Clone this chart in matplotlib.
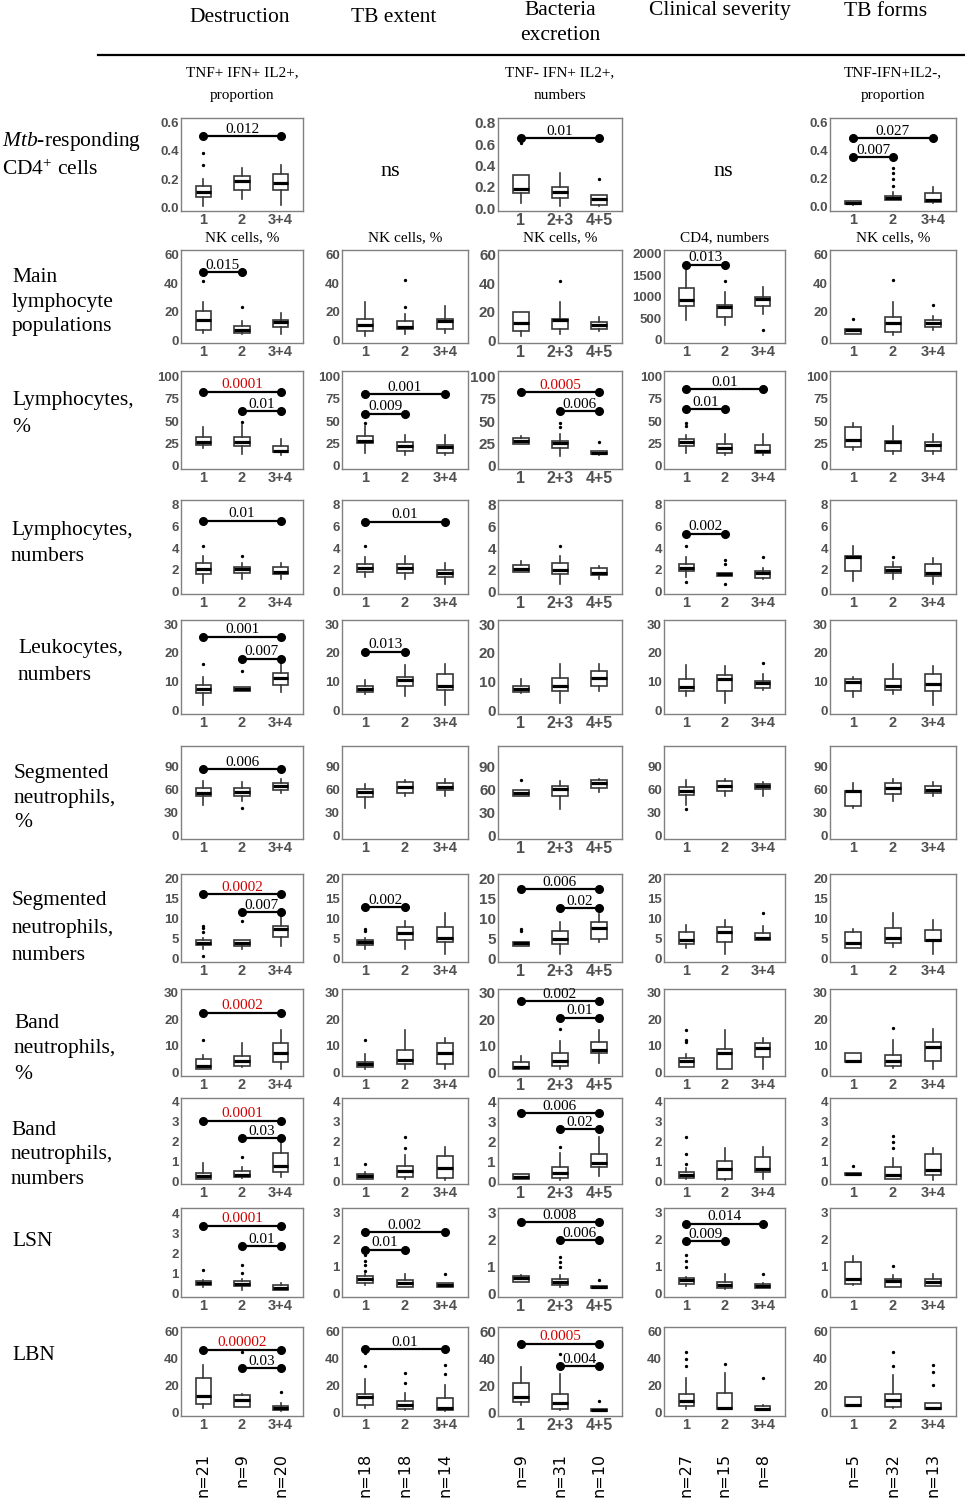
import matplotlib.pyplot as plt
from matplotlib import transforms
from matplotlib.lines import Line2D

plt.rcParams["mathtext.fontset"] = "custom"
plt.rcParams["mathtext.rm"] = "Liberation Serif"
plt.rcParams["mathtext.it"] = "Liberation Serif:italic"

W, H = 965, 1505
SERIF = "Liberation Serif"
SANS = "Liberation Sans"
TICK_GRAY = "#505050"
RED = "#d40000"

# ---------------------------------------------------------------- data
column_titles = ["Destruction", "TB extent", "Bacteria\nexcretion",
                 "Clinical severity", "TB forms"]
row_titles = [
    "$\\mathit{Mtb}$-responding\nCD4$^{+}$ cells",
    "Main\nlymphocyte\npopulations",
    "Lymphocytes,\n%",
    "Lymphocytes,\nnumbers",
    "Leukocytes,\nnumbers",
    "Segmented\nneutrophils,\n%",
    "Segmented\nneutrophils,\nnumbers",
    "Band\nneutrophils,\n%",
    "Band\nneutrophils,\nnumbers",
    "LSN",
    "LBN",
]
groups = ["1", "2", "3+4"]
groups_bacteria = ["1", "2+3", "4+5"]
n_counts = [[21, 9, 20], [18, 18, 14], [9, 31, 10], [27, 15, 8], [5, 32, 13]]

panel_titles = {
    (0, 0): "TNF+ IFN+ IL2+,\nproportion",
    (0, 2): "TNF- IFN+ IL2+,\nnumbers",
    (0, 4): "TNF-IFN+IL2-,\nproportion",
    (1, 0): "NK cells, %",
    (1, 1): "NK cells, %",
    (1, 2): "NK cells, %",
    (1, 3): "CD4, numbers",
    (1, 4): "NK cells, %",
}

# box summaries: (whisker low, q1, median, q3, whisker high, outliers); None = "ns"
mtb_cd4 = [
    [(0.01, 0.075, 0.11, 0.15, 0.20, [0.30, 0.38]), (0.06, 0.12, 0.185, 0.225, 0.28, []),
     (0.02, 0.125, 0.175, 0.235, 0.30, [])],
    None,
    [(0.05, 0.14, 0.185, 0.31, 0.31, [0.61]), (0.02, 0.10, 0.15, 0.20, 0.33, []),
     (0.02, 0.035, 0.09, 0.12, 0.125, [0.27])],
    None,
    [(0.015, 0.02, 0.03, 0.045, 0.045, []), (0.05, 0.052, 0.065, 0.077, 0.105, [0.15, 0.2, 0.245, 0.28]),
     (0.027, 0.037, 0.05, 0.10, 0.14, [])],
]
main_lymph = [
    [(5, 7.5, 14.5, 20.5, 27, [42]), (4, 5, 7, 10, 13.5, [23.5]), (4, 9, 13, 14, 19, [])],
    [(3, 6.5, 10.5, 15, 27, []), (4, 8, 9.5, 13.5, 18.5, [23.5, 42.5]), (5, 8, 13.5, 15, 24, [])],
    [(3, 6.5, 12, 19.5, 19.5, []), (4, 8, 14.5, 15, 27, [42]), (6.5, 8, 11, 12.5, 16, [])],
    [(450, 790, 925, 1190, 1750, []), (330, 520, 755, 810, 1115, [1370]),
     (600, 775, 945, 1000, 1230, [230])],
    [(4, 4.5, 7, 8, 8, [15]), (3.5, 6, 12, 16, 27, [42.5]), (7, 9, 12, 14.5, 17, [24.5])],
]
lymph_pct = [
    [(20, 23.5, 27, 32, 43, []), (13, 22.5, 26, 32, 45, [49]), (12.5, 15, 17, 22.5, 30, [])],
    [(14, 25, 27.5, 33, 44, [48]), (12.5, 16, 22.5, 26.5, 34.5, []), (12, 14.5, 21, 23, 34.5, [])],
    [(24, 24.5, 28, 31.5, 33, []), (11, 20, 25.5, 28, 35, [43.5, 48]), (12, 13, 14.5, 16, 16, [26])],
    [(14, 21.5, 26, 30, 34.5, [44, 47.5]), (12.5, 14, 20, 24.5, 35, []), (12.5, 14, 16, 23.5, 35, [])],
    [(18, 20.5, 29, 43.5, 48, []), (13, 16.5, 26, 28, 44, []), (13, 16.5, 23.5, 27, 35, [])],
]
lymph_num = [
    [(0.8, 1.6, 2.1, 2.6, 3.25, [4.2]), (1.2, 1.75, 2.1, 2.3, 2.6, [3.25]), (1.2, 1.6, 1.85, 2.3, 2.65, [])],
    [(1.4, 1.85, 2.15, 2.55, 3.2, [4.2]), (1.15, 1.7, 2.15, 2.55, 3.25, []), (0.7, 1.4, 1.7, 2.0, 2.6, [])],
    [(1.85, 1.85, 2.05, 2.45, 2.8, []), (0.75, 1.6, 2.0, 2.6, 3.25, [4.2]), (1.15, 1.55, 1.75, 2.15, 2.35, [])],
    [(1.4, 1.9, 2.15, 2.55, 3.2, [0.9, 4.2]), (1.45, 1.45, 1.6, 1.7, 1.7, [0.7, 2.55, 2.9]),
     (1.15, 1.25, 1.7, 1.9, 2.2, [3.15])],
    [(0.95, 1.95, 3.2, 3.25, 4.15, []), (1.2, 1.7, 2.0, 2.25, 2.75, [3.2]), (0.7, 1.45, 1.75, 2.5, 3.05, [])],
]
leuko_num = [
    [(2, 6, 7.4, 8.9, 11.4, [16]), (6.6, 6.8, 7.4, 8, 8, [13.5]), (6.3, 8.9, 11.2, 12.9, 16.4, [])],
    [(5.7, 6.4, 7.4, 8.3, 10.7, []), (4.9, 8.3, 10.7, 11.5, 15.6, []), (2, 6.9, 8.6, 12.7, 16.2, [])],
    [(5.9, 6.5, 7.4, 8.5, 10.8, []), (2.4, 6.8, 8.5, 11.2, 16, []), (6.8, 8.5, 11.2, 13.6, 16.2, [])],
    [(4.8, 6.8, 8, 11, 15.9, []), (2.4, 6.6, 11, 12.3, 15.3, []), (7.2, 7.8, 9.4, 10.2, 12.6, [16.6])],
    [(4.6, 6.8, 10, 10.9, 11.4, []), (5.6, 7.1, 8.3, 10.9, 16.2, []), (1.9, 6.8, 9.1, 12.6, 15.3, [])],
]
seg_pct = [
    [(40.5, 51, 56, 62, 71, []), (45.6, 52, 57, 62, 70, [35.6]), (55, 59, 64.6, 67.8, 73, [])],
    [(35.5, 50, 56.7, 61, 67.3, []), (52, 56, 62.8, 69.5, 72, []), (52, 59, 62.8, 68.7, 74, [])],
    [(51.6, 51.6, 56, 59.5, 59.5, [72.6]), (35, 51.6, 60.4, 65, 70.5, []), (57, 61.5, 68, 71.5, 73.8, [])],
    [(40, 52.3, 57.5, 62.8, 71.6, [34.7]), (51, 58.4, 65, 70.7, 73.8, []), (51.8, 60, 64.2, 67.2, 69.8, [])],
    [(35.6, 38, 57.7, 57.7, 68.2, []), (45, 54.4, 62, 68.2, 73.7, []), (51.5, 55.7, 59.8, 64, 69.5, [])],
]
seg_num = [
    [(2.5, 3.5, 3.9, 4.6, 5.2, [0.8, 6.8, 7.7, 8.1]), (2.5, 3.2, 3.9, 4.7, 4.7, [9.5]),
     (3.2, 5.4, 7.5, 8.1, 10.8, [])],
    [(2.5, 3.4, 4.2, 4.8, 5.2, [7.0, 7.4]), (2.5, 4.6, 6.5, 7.9, 9.5, []), (1.2, 4.1, 5.3, 7.9, 11.4, [])],
    [(3.3, 3.3, 3.9, 4.1, 4.1, [7.0, 7.5]), (1.1, 3.6, 4.9, 6.9, 9.2, []), (4.1, 4.9, 7.8, 9.2, 11.2, [])],
    [(2.6, 3.7, 4.7, 6.8, 8.4, []), (1.2, 4.3, 6.8, 8.0, 9.6, []), (4.7, 4.8, 5.2, 6.4, 8.1, [11.5])],
    [(2.6, 2.6, 4.0, 6.7, 7.4, []), (2.85, 4.0, 5.1, 7.6, 11.5, []), (1.2, 4.5, 4.8, 7.3, 9.6, [])],
]
band_pct = [
    [(1.3, 1.5, 2.3, 5, 6.7, [12.2]), (2.1, 2.3, 4.2, 6.1, 11, []), (1.5, 4, 7.2, 11, 16, [])],
    [(1.5, 2.1, 3.3, 4, 6.8, [12.1]), (1.2, 3.3, 4.6, 8.6, 15.8, []), (1.2, 3.1, 7.2, 11.1, 13, [])],
    [(1.3, 1.3, 1.9, 4, 6.2, []), (1.4, 2.3, 4.5, 7.3, 12, [16.2]), (3.6, 7.3, 8.4, 11.4, 16, [])],
    [(2.1, 2.1, 4.4, 5.3, 6.9, [11.3, 12.2, 16.1]), (1.5, 1.5, 7.2, 8.8, 16, []), (1.3, 5.7, 9.1, 11.1, 12.9, [])],
    [(4.1, 4.1, 4.4, 7.3, 7.3, []), (1.6, 2.3, 4.4, 6.5, 12.1, [16.5]), (1.5, 4.4, 9.4, 11.3, 16.3, [])],
]
band_num = [
    [(0.12, 0.12, 0.28, 0.41, 0.91, []), (0.17, 0.21, 0.33, 0.5, 0.75, [1.24]), (0.2, 0.46, 0.8, 1.41, 1.98, [])],
    [(0.12, 0.13, 0.25, 0.37, 0.47, [0.88]), (0.12, 0.22, 0.5, 0.78, 1.33, [1.7, 2.22]),
     (0.05, 0.17, 0.67, 1.3, 1.75, [])],
    [(0.12, 0.14, 0.23, 0.35, 0.38, []), (0.09, 0.17, 0.43, 0.73, 1.43, [1.74]),
     (0.26, 0.75, 0.92, 1.36, 2.26, [])],
    [(0.12, 0.17, 0.3, 0.45, 0.7, [0.88, 1.37, 2.22]), (0.05, 0.12, 0.62, 1.05, 1.7, []),
     (0.12, 0.47, 0.62, 1.22, 1.75, [])],
    [(0.33, 0.33, 0.38, 0.43, 0.43, [0.8]), (0.1, 0.13, 0.33, 0.72, 1.17, [1.67, 2.0, 2.27]),
     (0.05, 0.33, 0.6, 1.38, 1.68, [])],
]
lsn = [
    [(0.35, 0.42, 0.52, 0.63, 0.68, [1.17]), (0.22, 0.38, 0.5, 0.63, 0.72, [1.02, 1.43]),
     (0.22, 0.22, 0.3, 0.42, 0.55, [])],
    [(0.32, 0.41, 0.53, 0.65, 0.71, [0.83, 1.07, 1.19, 1.43]), (0.24, 0.26, 0.38, 0.5, 0.71, []),
     (0.23, 0.24, 0.32, 0.41, 0.41, [0.72])],
    [(0.43, 0.43, 0.56, 0.65, 0.69, []), (0.26, 0.33, 0.43, 0.54, 0.69, [0.99, 1.15, 1.34]),
     (0.2, 0.2, 0.23, 0.27, 0.27, [0.5])],
    [(0.29, 0.37, 0.5, 0.57, 0.6, [1.0, 1.2, 1.44]), (0.16, 0.2, 0.31, 0.44, 0.73, []),
     (0.2, 0.22, 0.29, 0.37, 0.41, [0.73])],
    [(0.32, 0.37, 0.53, 1.15, 1.39, []), (0.25, 0.26, 0.47, 0.53, 0.68, [1.02]),
     (0.28, 0.28, 0.43, 0.53, 0.72, [])],
]
lbn = [
    [(3.2, 6.2, 12.4, 25.6, 35.1, []), (4, 4, 9.4, 13.2, 14, [45]), (1.5, 2, 3.2, 5, 7.5, [15.7])],
    [(3.2, 5.6, 11.8, 14.2, 25.2, [34.5, 44.3]), (2, 2.4, 5.6, 8.6, 14.7, [22.3, 29.6]),
     (1.2, 2, 3.2, 11, 20.3, [28.4, 35.5])],
    [(5.8, 7.6, 11.4, 22, 33.7, []), (2, 3, 6.8, 13.9, 28.6, [43.8]), (1.3, 1.3, 2, 2.5, 2.5, [8.4])],
    [(3, 4.8, 8.5, 13.5, 25.5, [34.8, 40, 45]), (2.5, 2.5, 3.5, 14.8, 29.3, [36]),
     (1.8, 1.8, 3, 4.8, 5.5, [25.5])],
    [(4.6, 4.6, 5.4, 11.5, 12, []), (3.7, 4.2, 9.1, 13.9, 28.2, [34.8, 45]),
     (2.4, 2.4, 3.4, 7.3, 7.3, [20.8, 29.9, 35.5])],
]
row_boxes = [mtb_cd4, main_lymph, lymph_pct, lymph_num, leuko_num, seg_pct,
             seg_num, band_pct, band_num, lsn, lbn]

# pairwise p-values: (group a, group b, bracket level, p)
significance = {
    (0, 0): [(1, 3, 0.50, "0.012")],
    (0, 2): [(1, 3, 0.655, "0.01")],
    (0, 4): [(1, 3, 0.49, "0.027"), (1, 2, 0.355, "0.007")],
    (1, 0): [(1, 2, 48, "0.015")],
    (1, 3): [(1, 2, 1740, "0.013")],
    (2, 0): [(1, 3, 83, "0.0001"), (2, 3, 61, "0.01")],
    (2, 1): [(1, 3, 80, "0.001"), (1, 2, 58, "0.009")],
    (2, 2): [(1, 3, 82, "0.0005"), (2, 3, 61, "0.006")],
    (2, 3): [(1, 3, 85.5, "0.01"), (1, 2, 63.5, "0.01")],
    (3, 0): [(1, 3, 6.5, "0.01")],
    (3, 1): [(1, 3, 6.4, "0.01")],
    (3, 3): [(1, 2, 5.3, "0.002")],
    (4, 0): [(1, 3, 25.6, "0.001"), (2, 3, 17.9, "0.007")],
    (4, 1): [(1, 2, 20.4, "0.013")],
    (5, 0): [(1, 3, 86, "0.006")],
    (6, 0): [(1, 3, 16.2, "0.0002"), (2, 3, 11.7, "0.007")],
    (6, 1): [(1, 2, 12.9, "0.002")],
    (6, 2): [(1, 3, 17.4, "0.006"), (2, 3, 12.6, "0.02")],
    (7, 0): [(1, 3, 22.4, "0.0002")],
    (7, 2): [(1, 3, 26.8, "0.002"), (2, 3, 20.5, "0.01")],
    (8, 0): [(1, 3, 3.05, "0.0001"), (2, 3, 2.17, "0.03")],
    (8, 2): [(1, 3, 3.44, "0.006"), (2, 3, 2.64, "0.02")],
    (9, 0): [(1, 3, 3.38, "0.0001"), (2, 3, 2.35, "0.01")],
    (9, 1): [(1, 3, 2.25, "0.002"), (1, 2, 1.62, "0.01")],
    (9, 2): [(1, 3, 2.62, "0.008"), (2, 3, 1.97, "0.006")],
    (9, 3): [(1, 3, 2.57, "0.014"), (1, 2, 1.94, "0.009")],
    (10, 0): [(1, 3, 46.8, "0.00002"), (2, 3, 33.1, "0.03")],
    (10, 1): [(1, 3, 47.3, "0.01")],
    (10, 2): [(1, 3, 51.4, "0.0005"), (2, 3, 34.7, "0.004")],
}

row_yticks = [
    [0, 0.2, 0.4, 0.6], [0, 20, 40, 60], [0, 25, 50, 75, 100], [0, 2, 4, 6, 8],
    [0, 10, 20, 30], [0, 30, 60, 90], [0, 5, 10, 15, 20], [0, 10, 20, 30],
    [0, 1, 2, 3, 4], [0, 1, 2, 3], [0, 20, 40, 60],
]
row_ylims = [
    (-0.025, 0.63), (-2, 63.5), (-3.7, 106), (-0.2, 8.4), (-1.3, 31.4), (-4, 116),
    (-0.8, 21.2), (-1.3, 31.3), (-0.13, 4.2), (-0.12, 3.15), (-2.5, 63.7),
]
axis_overrides = {
    (0, 2): ([0, 0.2, 0.4, 0.6, 0.8], (-0.025, 0.845)),
    (0, 4): ([0, 0.2, 0.4, 0.6], (-0.03, 0.635)),
    (1, 3): ([0, 500, 1000, 1500, 2000], (-77, 2085)),
    (9, 0): ([0, 1, 2, 3, 4], (-0.15, 4.25)),
}

# ---------------------------------------------------------------- layout (pixels)
col_left = [181, 342, 498, 664, 830]
col_right = [303, 468, 622, 785, 956]
row_top = [118, 250, 371, 500, 620, 746, 874, 989, 1098, 1208, 1327]
row_bottom = [211, 343, 469, 594, 714, 839, 962, 1076, 1184, 1297, 1416]
row_label_x = [2, 12, 12, 11, 18, 14, 12, 14, 11, 12, 12]
row_label_y = [155, 302, 414, 543, 662, 798, 928, 1049, 1155, 1242, 1355]
row_label_spacing = [1.4, 1.4, 1.6, 1.5, 1.6, 1.4, 1.6, 1.45, 1.4, 1.2, 1.2]
header_y = [18, 18, 23, 11, 11]
header_x = [240, 394, 560, 720, 886]
ns_x = [390, 723]


def fy(y_px):
    return 1 - y_px / H


fig = plt.figure(figsize=(W / 100, H / 100), dpi=100)

# Column headers and the rule below them.
for x, y, text in zip(header_x, header_y, column_titles):
    fig.text(x / W, fy(y), text, ha="center", va="center", family=SERIF,
             fontsize=15.5, linespacing=1.4)
fig.add_artist(Line2D([98 / W, 1], [fy(55), fy(55)], color="black", lw=1.6))

# Row labels.
for x, y, text, ls in zip(row_label_x, row_label_y, row_titles, row_label_spacing):
    fig.text(x / W, fy(y), text, ha="left", va="center", family=SERIF,
             fontsize=15.5, linespacing=ls)

last_row_axes = {}
ns_count = 0
for r, boxes_row in enumerate(row_boxes):
    for c, boxes in enumerate(boxes_row):
        if boxes is None:
            fig.text(ns_x[ns_count] / W, fy(172), "ns", ha="center", va="center",
                     family=SERIF, fontsize=16)
            ns_count += 1
            continue
        left, right = col_left[c], col_right[c]
        top, bottom = row_top[r], row_bottom[r]
        ax = fig.add_axes([left / W, fy(bottom), (right - left) / W, (bottom - top) / H])

        stats = [dict(whislo=b[0], q1=b[1], med=b[2], q3=b[3], whishi=b[4], fliers=b[5])
                 for b in boxes]
        ax.bxp(stats, positions=[1, 2, 3], widths=0.4, showcaps=False, patch_artist=True,
               manage_ticks=False,
               boxprops=dict(facecolor="white", edgecolor="#383838", linewidth=1.2),
               whiskerprops=dict(color="#383838", linewidth=1.2),
               medianprops=dict(color="black", linewidth=2.3),
               flierprops=dict(marker="o", markersize=1.4, markerfacecolor="black",
                               markeredgecolor="black"))

        yticks, ylim = axis_overrides.get((r, c), (row_yticks[r], row_ylims[r]))
        ax.set_xlim(0.42, 3.58)
        ax.set_ylim(*ylim)
        fmt = "%d" if all(float(t).is_integer() for t in yticks) else "%.1f"
        ysize, xsize = (11, 11.5) if c == 2 else (9.5, 10.5)
        style = dict(family=SANS, fontweight="bold", color=TICK_GRAY)
        ax.set_yticks(yticks, labels=[fmt % t for t in yticks], fontsize=ysize, **style)
        ax.set_xticks([1, 2, 3], labels=groups_bacteria if c == 2 else groups,
                      fontsize=xsize, **style)
        ax.tick_params(length=0, pad=1.5)
        for spine in ax.spines.values():
            spine.set_color("#808080")
            spine.set_linewidth(1.0)

        for a, b, level, p in significance.get((r, c), []):
            ax.plot([a, b], [level, level], color="black", lw=1.6, marker="o",
                    markersize=5.5, solid_capstyle="butt", clip_on=False, zorder=5)
            ax.annotate(p, ((a + b) / 2, level), xytext=(0, 0.3), textcoords="offset points",
                        ha="center", va="bottom", family=SERIF, fontsize=11,
                        color=RED if float(p) < 0.001 else "black", zorder=6)

        if (r, c) in panel_titles:
            title_y = 84 if r == 0 else 238
            trans = transforms.blended_transform_factory(ax.transAxes, fig.transFigure)
            ax.text(0.5, fy(title_y), panel_titles[(r, c)], transform=trans,
                    ha="center", va="center", family=SERIF, fontsize=11, linespacing=1.95)

        last_row_axes[c] = ax

# Group sizes under the bottom row.
for c, counts in enumerate(n_counts):
    ax = last_row_axes[c]
    trans = transforms.blended_transform_factory(ax.transData, fig.transFigure)
    for pos, n in zip([1, 2, 3], counts):
        ax.text(pos, fy(1453), f"n={n}", transform=trans, rotation=90,
                ha="center", va="top", family="DejaVu Sans", fontsize=11.5)

fig.savefig("out.png", dpi=100, facecolor="white")
